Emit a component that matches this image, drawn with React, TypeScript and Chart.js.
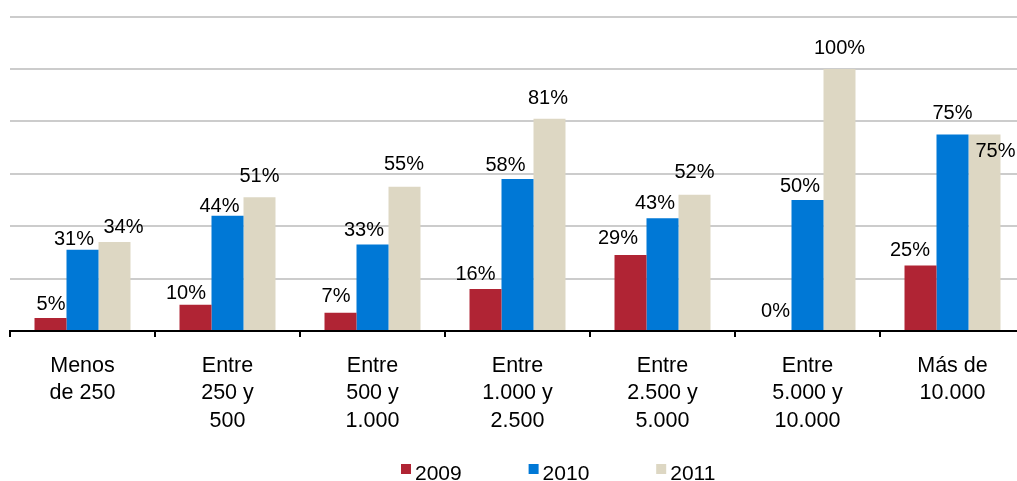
import React, { useEffect, useRef } from "react";
import { Chart, registerables } from "chart.js";

Chart.register(...registerables);

const categories: string[][] = [
  ["Menos", "de 250"],
  ["Entre", "250 y", "500"],
  ["Entre", "500 y", "1.000"],
  ["Entre", "1.000 y", "2.500"],
  ["Entre", "2.500 y", "5.000"],
  ["Entre", "5.000 y", "10.000"],
  ["Más de", "10.000"],
];

const seriesNames = ["2009", "2010", "2011"];
const values2009 = [5, 10, 7, 16, 29, 0, 25];
const values2010 = [31, 44, 33, 58, 43, 50, 75];
const values2011 = [34, 51, 55, 81, 52, 100, 75];
const seriesColors = ["#B02434", "#0078D6", "#DDD7C3"];

const yTicksMax = 120;
const yTicksStep = 20;

// label nudges (style only): [dx, gap above bar top]
const labelNudges: number[][][] = [
  [[0.5, 8], [-9.5, 6], [-4.5, 11], [-10, 9], [-12.5, 10.5], [0, 14], [-10.5, 9.5]],
  [[-8.5, 4.5], [-8, 4], [-8.5, 9], [-12, 8], [-7.5, 9.5], [-7.5, 8], [0, 15]],
  [[9, 8.5], [0, 15], [-0.5, 16.5], [-1.5, 15], [0, 16.5], [0, 15], [11, -23]],
];

const FONT = "'Liberation Sans', Arial, Helvetica, sans-serif";

const labelsPlugin = {
  id: "valueLabels",
  afterDatasetsDraw(chart: any) {
    const ctx = chart.ctx;
    ctx.save();
    ctx.font = `20px ${FONT}`;
    ctx.fillStyle = "#000";
    ctx.textAlign = "center";
    ctx.textBaseline = "alphabetic";
    chart.data.datasets.forEach((ds: any, i: number) => {
      const meta = chart.getDatasetMeta(i);
      meta.data.forEach((bar: any, j: number) => {
        const n = labelNudges[i][j];
        ctx.fillText(`${ds.data[j]}%`, bar.x + n[0], bar.y - n[1]);
      });
    });
    ctx.restore();
  },
};

const legendPlugin = {
  id: "customLegend",
  afterDraw(chart: any) {
    const ctx = chart.ctx;
    ctx.save();
    ctx.font = `21px ${FONT}`;
    ctx.textAlign = "left";
    ctx.textBaseline = "alphabetic";
    const startX = 401;
    const pitch = 127.6;
    const boxTop = 464;
    chart.data.datasets.forEach((ds: any, i: number) => {
      const x = startX + i * pitch;
      ctx.fillStyle = ds.backgroundColor;
      ctx.fillRect(x, boxTop, 10, 10);
      ctx.fillStyle = "#000";
      ctx.fillText(ds.label, x + 14, 480);
    });
    ctx.restore();
  },
};

export default function App() {
  const ref = useRef<HTMLCanvasElement | null>(null);

  useEffect(() => {
    if (!ref.current) return;
    const datasets = [values2009, values2010, values2011].map((vals, i) => ({
      label: seriesNames[i],
      data: vals,
      backgroundColor: seriesColors[i],
      borderWidth: 0,
      barPercentage: 1,
      categoryPercentage: 0.662,
    }));
    const chart = new Chart(ref.current, {
      type: "bar",
      data: { labels: categories, datasets },
      options: {
        responsive: false,
        animation: false,
        devicePixelRatio: 1,
        layout: { padding: { left: 10, right: 3, top: 16.5, bottom: 0 } },
        plugins: {
          legend: { display: false },
          tooltip: { enabled: false },
        },
        scales: {
          x: {
            grid: {
              offset: true,
              drawOnChartArea: false,
              drawTicks: true,
              tickLength: 6,
              color: "#000",
              lineWidth: 2,
            },
            border: { display: true, color: "#000", width: 2 },
            ticks: {
              autoSkip: false,
              maxRotation: 0,
              minRotation: 0,
              padding: 15,
              color: "#000",
              font: { family: FONT, size: 21.5, lineHeight: 1.28 },
            },
            afterFit: (s: any) => {
              s.height = 150;
            },
          },
          y: {
            min: 0,
            max: yTicksMax,
            ticks: { display: false, stepSize: yTicksStep },
            grid: { color: "#CCCCCC", lineWidth: 2, drawTicks: false },
            border: { display: false },
          },
        },
      },
      plugins: [labelsPlugin, legendPlugin],
    });
    return () => chart.destroy();
  }, []);

  return (
    <div
      style={{
        position: "fixed",
        left: 0,
        top: 0,
        width: 1017,
        height: 481,
        overflow: "hidden",
        background: "#fff",
      }}
    >
      <canvas ref={ref} width={1028} height={481} style={{ display: "block", width: 1028, height: 481 }} />
    </div>
  );
}
